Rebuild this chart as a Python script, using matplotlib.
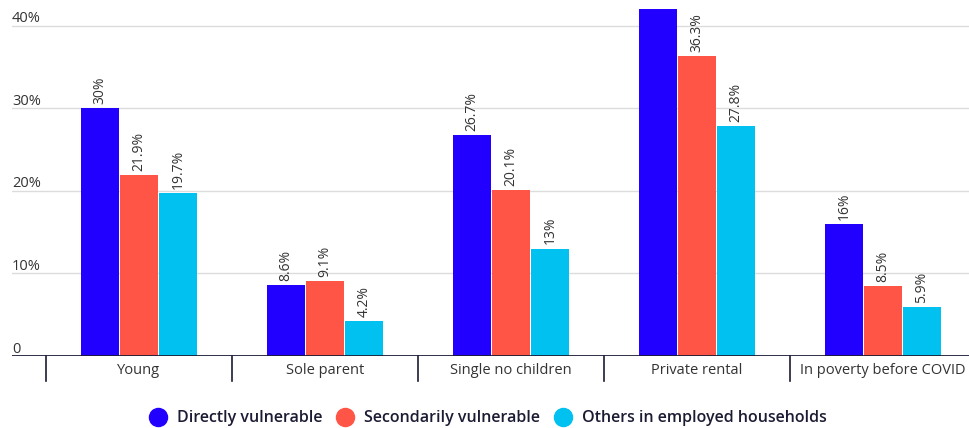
import numpy as np
import matplotlib.pyplot as plt
from matplotlib.lines import Line2D
from matplotlib import transforms

plt.rcParams['font.family'] = ['Open Sans', 'DejaVu Sans']

categories = ["Young", "Sole parent", "Single no children", "Private rental", "In poverty before COVID"]
series_names = ["Directly vulnerable", "Secondarily vulnerable", "Others in employed households"]
directly = [30, 8.6, 26.7, 43.6, 16]
secondarily = [21.9, 9.1, 20.1, 36.3, 8.5]
others = [19.7, 4.2, 13, 27.8, 5.9]
labels_directly = ["30%", "8.6%", "26.7%", "43.6%", "16%"]
labels_secondarily = ["21.9%", "9.1%", "20.1%", "36.3%", "8.5%"]
labels_others = ["19.7%", "4.2%", "13%", "27.8%", "5.9%"]
yticks = [0, 10, 20, 30, 40]
ytick_labels = ["0", "10%", "20%", "30%", "40%"]

colors = ["#2200ff", "#ff5546", "#00c1ef"]
text_col = "#333333"
dark = "#1b1b33"
ymax = 42

fig = plt.figure(figsize=(9.69, 4.28), dpi=100)
ax = fig.add_axes([12 / 969, 72 / 428, 957 / 969, 347 / 428])

x = np.arange(len(categories))
width = 0.2
step = 0.21
all_vals = [directly, secondarily, others]
all_labels = [labels_directly, labels_secondarily, labels_others]

for i, (vals, labs) in enumerate(zip(all_vals, all_labels)):
    pos = x + (i - 1) * step
    ax.bar(pos, vals, width, color=colors[i], zorder=3)
    for p, v, lab in zip(pos, vals, labs):
        if v > ymax:
            continue  # label falls outside the visible area
        ax.text(p, v + 0.5, lab, rotation=90, ha="center", va="bottom",
                fontsize=10, color=text_col, zorder=4)

ax.set_ylim(0, ymax)
ax.set_xlim(-0.5 - 34 / 186, 4.5 - 7 / 186)

for t in yticks[1:]:
    ax.axhline(t, color="#dcdcdc", lw=1, zorder=1)
ax.axhline(0, color=dark, lw=2, zorder=5)

trans = transforms.blended_transform_factory(ax.transAxes, ax.transData)
for t, lab in zip(yticks, ytick_labels):
    ax.text(0.0, t + 0.4, lab, transform=trans, ha="left", va="baseline",
            fontsize=10.5, color=text_col)

# category separators below the axis
for b in np.arange(len(categories)) - 0.5:
    ax.plot([b, b], [0, -3.0], color=dark, lw=1.2, clip_on=False)
for xi, c in zip(x, categories):
    ax.text(xi, -0.8, c, ha="center", va="top", fontsize=10.5, color=text_col, clip_on=False)

for s in ax.spines.values():
    s.set_visible(False)
ax.set_xticks([])
ax.set_yticks([])

handles = [Line2D([0], [0], marker="o", linestyle="", markersize=13, color=c) for c in colors]
fig.legend(handles, series_names, loc="lower center", bbox_to_anchor=(0.5, -0.03), ncol=3,
           frameon=False, handletextpad=0.2, columnspacing=0.4,
           prop={"size": 11.5, "weight": "semibold"}, labelcolor=dark)

fig.savefig("out.png", dpi=100)
